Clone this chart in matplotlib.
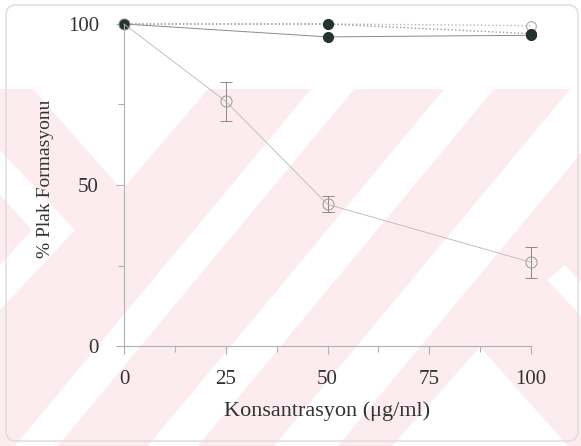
import numpy as np
import matplotlib
matplotlib.use('Agg')
import matplotlib.pyplot as plt
from matplotlib.patches import Polygon, Rectangle, FancyBboxPatch

plt.rcParams['font.family'] = ['Liberation Serif', 'DejaVu Serif']

# data
conc = [0, 25, 50, 100]
plak = [100, 76, 44, 26]
plak_err = [0, 6, 2.5, 4.8]

conc_top = [0, 50, 100]
seri1 = [100, 100, 97]      # dolu, noktali
seri2 = [100, 96, 96.5]     # dolu, duz
seri3 = [100, 100, 99.5]    # bos, noktali

W, H = 581, 446
fig = plt.figure(figsize=(W / 100, H / 100), dpi=100)

# arka plan filigran (pembe + beyaz seritler), piksel koordinatlari
bg = fig.add_axes([0, 0, 1, 1], zorder=-1)
bg.set_xlim(0, W)
bg.set_ylim(H, 0)
bg.axis('off')
pink = '#fcecef'
top = 89
k = 0.83   # serit egimi (dx/dy)
bg.add_patch(Rectangle((0, top), W, H - top, color=pink, lw=0))
for a, b in [(385, 428), (518, 568), (644, 708)]:
    bg.add_patch(Polygon([(a - k * top, top), (b - k * top, top),
                          (b - k * H, H), (a - k * H, H)],
                         closed=True, color='white', lw=0))
bg.add_patch(Polygon([(33, top), (122, 190), (208, top)], color='white', lw=0))
bg.add_patch(Polygon([(0, 150), (75, 230), (0, 310), (0, 265), (32, 230), (0, 195)],
                     color='white', lw=0))
bg.add_patch(Polygon([(480, 347), (392, 446), (568, 446)], color='white', lw=0))
bg.add_patch(Polygon([(547, 280), (581, 316), (581, 283), (565, 265)], color='white', lw=0))
bg.add_patch(FancyBboxPatch((6, 5), 572, 436, boxstyle='round,pad=0,rounding_size=10',
                            fc='none', ec='#dcdcdc', lw=1))

ax = fig.add_axes([124 / W, 1 - 346 / H, 407 / W, 322 / H])
ax.patch.set_alpha(0)

ax.errorbar(conc, plak, yerr=plak_err, color='#b8b8b8', lw=0.6, ls='-',
            marker='o', ms=8, mfc='none', mec='#999999', mew=0.7,
            ecolor='#888888', elinewidth=0.7, capsize=4.5, capthick=0.7, clip_on=False)
ax.plot(conc_top, seri3, ls=':', color='#b5b5b5', lw=1, marker='o', ms=7,
        mfc='none', mec='#aaaaaa', mew=0.8, clip_on=False)
ax.plot(conc_top, seri2, ls='-', color='#8a8a8a', lw=0.7, marker='o', ms=7,
        mfc='#253232', mec='#253232', clip_on=False)
ax.plot(conc_top, seri1, ls=':', color='#999999', lw=1, marker='o', ms=7,
        mfc='#253232', mec='#253232', clip_on=False)

ax.set_xlim(0, 100)
ax.set_ylim(0, 100)
ax.set_xticks([0, 25, 50, 75, 100])
ax.set_xticks([12.5, 37.5, 62.5, 87.5], minor=True)
ax.set_yticks([0, 50, 100])
ax.set_yticks([25, 75], minor=True)
for s in ['top', 'right']:
    ax.spines[s].set_visible(False)
for s in ['left', 'bottom']:
    ax.spines[s].set_color('#a6b4b4')
    ax.spines[s].set_linewidth(0.8)
ax.tick_params(which='both', direction='out', color='#a6b4b4', width=0.8,
               labelsize=15, labelcolor='#333333')
ax.tick_params(which='major', length=6)
ax.tick_params(which='minor', length=4)
ax.tick_params(axis='x', pad=11)
ax.tick_params(axis='y', pad=12)

ax.set_xlabel('Konsantrasyon (\u03bcg/ml)', fontsize=16, color='#333333', labelpad=9)
ax.set_ylabel('% Plak Formasyonu', fontsize=14, color='#333333')
ax.yaxis.set_label_coords(-70 / 407, 0.52)

fig.savefig('out.png', dpi=100)
